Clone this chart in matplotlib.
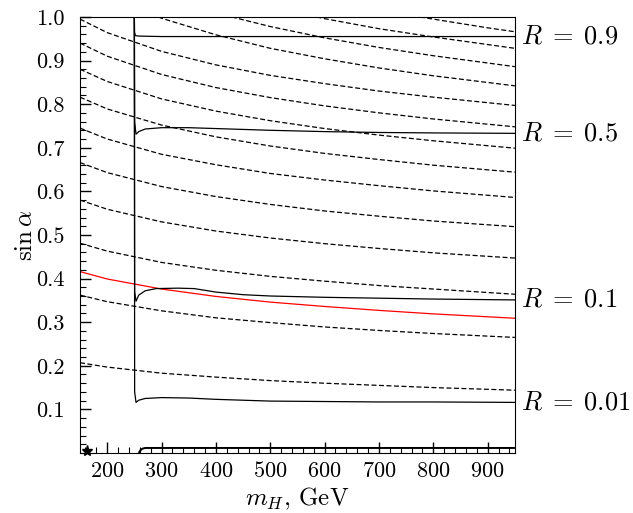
import numpy as np
import matplotlib as mpl
mpl.use('Agg')
import matplotlib.pyplot as plt
from matplotlib.ticker import FixedLocator, MultipleLocator, FormatStrFormatter

plt.rcParams['font.family'] = 'serif'
plt.rcParams['font.serif'] = ['cmr10']
plt.rcParams['mathtext.fontset'] = 'cm'
plt.rcParams['axes.unicode_minus'] = False
plt.rcParams['axes.formatter.use_mathtext'] = True

# dashed background contours
# lines starting at the left edge (mH=150)
mh_grid = [150, 200, 300, 400, 500, 600, 700, 800, 950]
dash_left = [
    [0.995, 0.964, 0.921, 0.890, 0.866, 0.847, 0.830, 0.816, 0.797],
    [0.940, 0.910, 0.868, 0.838, 0.815, 0.796, 0.780, 0.766, 0.748],
    [0.880, 0.852, 0.812, 0.784, 0.762, 0.744, 0.729, 0.716, 0.699],
    [0.816, 0.789, 0.752, 0.725, 0.704, 0.687, 0.673, 0.660, 0.644],
    [0.745, 0.720, 0.685, 0.661, 0.641, 0.626, 0.613, 0.601, 0.586],
    [0.666, 0.643, 0.611, 0.588, 0.570, 0.555, 0.543, 0.532, 0.519],
    [0.580, 0.559, 0.530, 0.509, 0.493, 0.480, 0.469, 0.459, 0.447],
    [0.481, 0.463, 0.437, 0.419, 0.405, 0.394, 0.384, 0.376, 0.364],
    [0.362, 0.347, 0.326, 0.310, 0.299, 0.289, 0.281, 0.274, 0.265],
    [0.207, 0.197, 0.183, 0.174, 0.166, 0.160, 0.155, 0.150, 0.144],
]
# lines entering through the top of the frame
dash_top_x = [
    [294, 300, 400, 500, 600, 700, 800, 950],
    [429, 500, 600, 700, 800, 950],
    [585, 600, 700, 800, 950],
    [775, 800, 850, 900, 950],
]
dash_top_y = [
    [1.0, 0.997, 0.959, 0.928, 0.904, 0.883, 0.865, 0.842],
    [1.0, 0.978, 0.952, 0.930, 0.911, 0.886],
    [1.0, 0.996, 0.973, 0.954, 0.928],
    [1.0, 0.995, 0.985, 0.975, 0.966],
]

# red reference curve
red_y = [0.416, 0.399, 0.376, 0.359, 0.346, 0.336, 0.327, 0.319, 0.309]

# solid R curves
R_labels = ['0.9', '0.5', '0.1', '0.01']
R_x = [
    [250, 250.3, 252, 260, 300, 400, 600, 800, 950],
    [250, 250.5, 253, 258, 270, 300, 350, 400, 500, 600, 700, 800, 950],
    [250, 250.5, 253, 258, 270, 290, 330, 360, 400, 450, 500, 600, 700, 800, 950],
    [250, 250.5, 253, 258, 270, 300, 350, 400, 500, 600, 700, 800, 950],
]
R_y = [
    [1.0, 0.965, 0.957, 0.956, 0.955, 0.955, 0.955, 0.955, 0.955],
    [1.0, 0.76, 0.731, 0.737, 0.743, 0.746, 0.746, 0.744, 0.740, 0.737, 0.735, 0.734, 0.733],
    [1.0, 0.37, 0.348, 0.362, 0.372, 0.377, 0.378, 0.377, 0.369, 0.363, 0.360, 0.357, 0.355, 0.353, 0.351],
    [1.0, 0.14, 0.116, 0.121, 0.125, 0.127, 0.126, 0.123, 0.119, 0.118, 0.117, 0.117, 0.116],
]

# thick line along the bottom and the star
bot_x = [258, 261, 265, 270, 950]
bot_y = [0.0, 0.006, 0.010, 0.0115, 0.0115]
star_x, star_y = 163, 0.004

fig = plt.figure(figsize=(6.33, 5.13), dpi=100)
ax = fig.add_axes([0.1264, 0.117, 0.687, 0.850])

for yy in dash_left:
    ax.plot(mh_grid, yy, color='k', lw=0.9, ls=(0, (4, 2)))
for xx, yy in zip(dash_top_x, dash_top_y):
    ax.plot(xx, yy, color='k', lw=0.9, ls=(0, (4, 2)))

ax.plot(mh_grid, red_y, color='red', lw=0.9)

for xx, yy, lab in zip(R_x, R_y, R_labels):
    ax.plot(xx, yy, color='k', lw=0.9)
    ax.text(1.013, yy[-1], r'$R\;=\;%s$' % lab, transform=ax.get_yaxis_transform(),
            fontsize=19, va='center', ha='left')

ax.plot(bot_x, bot_y, color='k', lw=1.4, solid_capstyle='butt')
ax.plot([star_x], [star_y], marker='*', color='k', ms=8, clip_on=False)

ax.set_xlim(150, 950)
ax.set_ylim(0, 1.0)
ax.xaxis.set_major_locator(FixedLocator(range(200, 1000, 100)))
ax.xaxis.set_minor_locator(MultipleLocator(20))
ax.yaxis.set_major_locator(FixedLocator(np.arange(1, 11) / 10))
ax.yaxis.set_minor_locator(MultipleLocator(0.02))
ax.yaxis.set_major_formatter(FormatStrFormatter('%.1f'))
ax.tick_params(which='both', direction='in', top=False, right=False, labelsize=16)
ax.tick_params(which='major', length=8, width=1.0)
ax.tick_params(which='minor', length=4, width=0.8)
ax.tick_params(axis='y', pad=11)
ax.tick_params(axis='x', pad=6)

ax.set_xlabel('$m_H$, GeV', fontsize=18)
ax.xaxis.set_label_coords(0.5, -0.074)
ax.set_ylabel(r'$\sin\alpha$', fontsize=18)
ax.yaxis.set_label_coords(-0.1, 0.5)

fig.savefig('out.png', dpi=100)
